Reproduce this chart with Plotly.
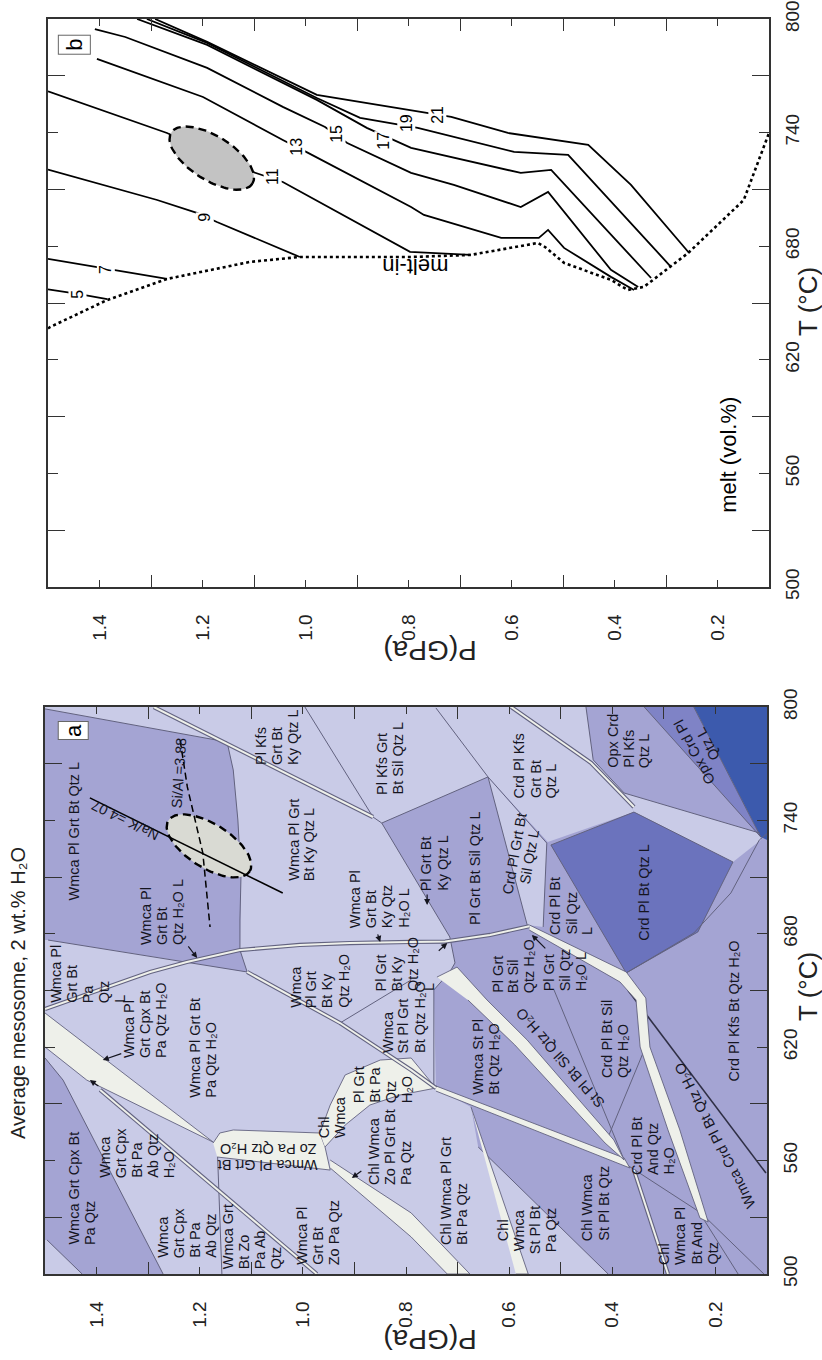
import numpy as np
import plotly.graph_objects as go

# =====================================================================
# Panel (b): melt isopleths (vol.%) in P (GPa) - T (degC) space
# =====================================================================
ISO_LEVELS = ["5", "7", "9", "11", "13", "15", "17", "19", "21"]
iso5_P = [1.5, 1.442, 1.385]
iso5_T = [657.2, 654.8, 652.0]
iso7_P = [1.5, 1.399, 1.269]
iso7_T = [673.3, 668.5, 662.7]
iso9_P = [1.5, 1.288, 1.211, 1.172, 1.011]
iso9_T = [720.5, 704.4, 697.6, 692.8, 674.3]
iso11_P = [1.5, 1.269, 1.102, 1.044, 0.797, 0.679]
iso11_T = [761.8, 739.8, 719.2, 713.9, 677.0, 675.4]
iso13_P = [1.405, 1.199, 1.044, 0.995, 0.795, 0.770, 0.620, 0.547, 0.529, 0.498, 0.407, 0.362]
iso13_T = [778.9, 758.8, 736.1, 729.3, 700.7, 696.5, 684.4, 684.4, 688.6, 679.1, 663.8, 656.9]
iso15_P = [1.409, 1.350, 1.191, 1.044, 0.962, 0.919, 0.795, 0.712, 0.582, 0.529, 0.407, 0.354]
iso15_T = [794.7, 790.5, 774.2, 753.6, 743.0, 734.5, 718.7, 712.4, 700.7, 708.7, 667.5, 658.5]
iso17_P = [1.327, 1.191, 0.978, 0.881, 0.795, 0.582, 0.523, 0.329]
iso17_T = [800.0, 786.3, 757.3, 742.5, 731.9, 718.7, 720.3, 663.2]
iso19_P = [1.308, 1.191, 0.978, 0.894, 0.782, 0.595, 0.490, 0.290]
iso19_T = [800.0, 787.4, 758.3, 747.8, 742.5, 729.8, 728.2, 669.0]
iso21_P = [1.292, 1.191, 0.978, 0.795, 0.717, 0.607, 0.451, 0.368, 0.255]
iso21_T = [800.0, 787.9, 759.9, 752.0, 748.3, 739.8, 733.5, 712.4, 676.4]
iso_label_P = [1.442, 1.387, 1.195, 1.063, 1.017, 0.939, 0.848, 0.805, 0.743]
iso_label_T = [654.8, 667.5, 695.0, 716.6, 732.4, 739.3, 735.6, 745.0, 749.3]

# melt-in curve (solidus)
meltin_P = [1.5, 1.496, 1.385, 1.269, 1.108, 1.011, 0.795, 0.679, 0.549, 0.535,
            0.498, 0.407, 0.374, 0.343, 0.257, 0.149, 0.1]
meltin_T = [636.5, 637.3, 651.6, 662.7, 671.7, 674.3, 674.3, 675.4, 681.7, 679.6,
            671.2, 662.2, 656.9, 658.5, 676.4, 704.4, 739.8]

# P-T estimate ellipse (centre and the two conjugate half-axis vectors)
ell_P0, ell_T0 = 1.182, 726.5
ell_major = (-0.0789, -13.46)   # (dP, dT)
ell_minor = (0.0226, -9.87)

# Na/K and Si/Al isopleths of panel (a)
naK_P = [1.413, 1.039]
naK_T = [751.9, 701.6]
siAl_P = [1.238, 1.224, 1.194, 1.180, 1.180]
siAl_T = [782.5, 757.7, 722.8, 687.3, 683.6]

# =====================================================================
# Panel (a): pseudosection fields (vertex lists in P, T)
# =====================================================================
fld_med_P = [0.847, 0.641, 0.525, 0.358, 0.377, 0.114, 0.1, 0.1, 0.408, 0.660,
             0.674, 0.742, 0.746, 0.715, 0.705, 0.715]
fld_med_T = [738.6, 763.0, 728.6, 744.4, 754.5, 733.3, 729.6, 500, 500, 567.2,
             588.4, 598.4, 650.3, 659.8, 664.6, 678.3]
fld_opx_kfs_P = [0.451, 0.338, 0.114, 0.377, 0.437]
fld_opx_kfs_T = [800, 800, 733.3, 754.5, 772.0]
fld_band_P = [0.377, 0.114, 0.112, 0.166, 0.358]
fld_band_T = [754.5, 733.3, 729.6, 718.0, 744.4]
fld_crd_grt_sil_P = [0.641, 0.527, 0.534, 0.565]
fld_crd_grt_sil_T = [763.0, 728.0, 683.6, 684.7]
fld_crd_bt_l_P = [0.519, 0.358, 0.166, 0.234, 0.373]
fld_crd_bt_l_T = [727.0, 744.4, 718.0, 681.0, 659.3]
fld_opx_crd_P = [0.338, 0.242, 0.112]
fld_opx_crd_T = [800, 800, 731.2]
fld_corner_P = [0.242, 0.1, 0.1, 0.112]
fld_corner_T = [800, 800, 729.6, 731.2]
fld_wmca_l_P = [1.5, 1.147, 1.135, 1.126, 1.120, 1.122, 1.122, 1.108, 1.225, 1.494, 1.5]
fld_wmca_l_T = [799.0, 781.5, 766.7, 740.2, 710.1, 687.3, 671.4, 659.8, 665.1, 676.7, 676.7]
fld_cpx_P = [1.5, 1.465, 1.271, 1.428, 1.496, 1.5]
fld_cpx_T = [614.3, 602.6, 500, 500, 518.0, 518.0]
fld_small_P = [1.225, 1.122, 1.108]
fld_small_T = [665.1, 671.4, 659.8]

# narrow (white) fields
wf_cpx_P = [1.5, 1.174, 1.419, 1.5]
wf_cpx_T = [638.1, 569.8, 602.6, 620.1]
wf_zo_P = [1.174, 1.161, 1.135, 0.967, 0.957, 0.947, 1.166]
wf_zo_T = [569.3, 574.6, 576.2, 574.6, 567.2, 555.0, 561.9]
wf_chl_P = [0.967, 0.947, 0.918, 0.850, 0.790, 0.742, 0.812, 0.870, 0.918, 0.957]
wf_chl_T = [574.6, 589.4, 605.3, 613.2, 614.3, 598.4, 594.7, 589.4, 578.8, 567.2]
wf_chlzo_P = [0.947, 0.790, 0.676, 0.720, 0.790, 0.947]
wf_chlzo_T = [560.3, 532.3, 500, 500, 519.6, 556.1]
wf_st_P = [0.674, 0.563, 0.587]
wf_st_T = [588.4, 500, 500]
wf_pa_P = [0.742, 0.377, 0.366, 0.742]
wf_pa_T = [599.5, 561.4, 556.1, 596.8]
wf_sil_P = [0.740, 0.701, 0.643, 0.565, 0.397, 0.377, 0.414, 0.589, 0.680]
wf_sil_T = [657.1, 662.4, 645.0, 623.8, 570.9, 560.3, 569.3, 621.2, 645.0]
wf_sol_P = [0.561, 0.373, 0.335, 0.327, 0.269, 0.214, 0.230, 0.292, 0.346, 0.354, 0.385, 0.561]
wf_sol_T = [684.7, 659.8, 646.0, 620.1, 576.2, 527.5, 529.6, 576.2, 620.1, 645.0, 654.5, 682.0]

# single boundaries
bnd = [
    ([1.5, 1.147], [799.0, 781.5]),
    ([1.147, 1.135, 1.126, 1.120, 1.122, 1.122, 1.108], [781.5, 766.7, 740.2, 710.1, 687.3, 671.4, 659.8]),
    ([1.494, 1.225, 1.108], [676.7, 665.1, 659.8]),
    ([0.996, 0.864, 0.847], [800, 741.8, 738.6]),
    ([0.742, 0.641, 0.527], [799.5, 763.0, 728.0]),
    ([0.847, 0.641], [738.6, 763.0]),
    ([0.641, 0.565], [763.0, 684.7]),
    ([0.527, 0.534], [728.0, 683.6]),
    ([0.847, 0.715], [738.6, 678.3]),
    ([0.715, 0.705, 0.715, 0.746, 0.746], [678.3, 664.6, 659.8, 650.3, 598.4]),
    ([0.373, 0.242, 0.170, 0.115, 0.1], [659.3, 680.4, 701.6, 729.6, 733.0]),
    ([0.451, 0.437, 0.377, 0.114], [800, 772.0, 754.5, 733.3]),
    ([0.338, 0.112], [800, 731.2]),
    ([0.242, 0.112], [800, 731.2]),
    ([0.513, 0.377], [650.3, 560.3]),
    ([0.338, 0.408], [618.5, 572.5]),
    ([0.377, 0.228, 0.106], [558.7, 532.3, 500]),
    ([0.222, 0.156], [528.6, 500]),
    ([0.660, 0.408], [567.2, 500]),
    ([0.928, 0.790], [632.8, 655.6]),
    ([1.5, 1.465, 1.271], [614.3, 602.6, 500]),
    ([1.496, 1.428], [518.0, 500]),
    ([1.166, 1.157], [567.2, 500]),
]
bnd_blue_P = fld_crd_bt_l_P + fld_crd_bt_l_P[:1]
bnd_blue_T = fld_crd_bt_l_T + fld_crd_bt_l_T[:1]
kfs_line_P = [0.370, 0.102]
kfs_line_T = [650.3, 553.4]

# double (narrow-field) boundaries
dbl = [
    ([1.5, 1.393, 1.296, 1.225, 1.122, 1.006, 0.909, 0.790, 0.724, 0.637, 0.561],
     [640.2, 650.3, 659.8, 665.1, 671.4, 674.1, 675.1, 675.7, 675.9, 679.4, 684.0]),
    ([1.108, 0.928, 0.790, 0.742], [659.8, 632.8, 607.9, 598.4]),
    ([1.289, 0.864], [800, 741.8]),
    ([0.596, 0.441, 0.358], [800, 770.4, 747.1]),
    ([1.393, 0.973], [597.4, 500]),
    ([0.358, 0.292], [555.0, 500]),
]

# field labels of panel (a): text, anchor P, anchor T, angle, alignment
# ("start": the anchor is where the lines begin; "mid": the anchor is the centre)
H2O = "H\u2082O"
lab_text = [
    "Wmca Pl Grt Bt Qtz L", f"Wmca Pl<br>Grt Bt<br>Qtz {H2O} L",
    "Wmca Pl Grt<br>Bt Ky Qtz L", "Pl Kfs<br>Grt Bt<br>Ky Qtz L",
    "Pl Kfs Grt<br>Bt Sil Qtz L", f"Wmca Pl<br>Grt Bt<br>Ky Qtz<br>{H2O} L",
    "Wmca Pl<br>Grt Bt<br>Pa<br>Qtz<br>L", f"Wmca Pl<br>Grt Cpx Bt<br>Pa Qtz {H2O}",
    f"Wmca Pl Grt Bt<br>Pa Qtz {H2O}", f"Wmca<br>Pl Grt<br>Bt Ky<br>Qtz {H2O}",
    f"Pl Grt<br>Bt Ky<br>Qtz {H2O}<br>L", f"Wmca<br>St Pl Grt<br>Bt Qtz {H2O}",
    "Chl<br>Wmca", f"Pl Grt<br>Bt Pa<br>Qtz<br>{H2O}",
    "Wmca Grt Cpx Bt<br>Pa Qtz",
    f"Wmca<br>Grt Cpx<br>Bt Pa<br>Ab Qtz<br>{H2O}", "Wmca<br>Grt Cpx<br>Bt Pa<br>Ab Qtz",
    "Wmca Grt<br>Bt Zo<br>Pa Ab<br>Qtz", "Wmca Pl<br>Grt Bt<br>Zo Pa Qtz",
    f"Wmca Pl Grt Bt<br>Zo Pa Qtz {H2O}", "Chl Wmca<br>Zo Pl Grt Bt<br>Pa Qtz",
    "Chl Wmca Pl Grt<br>Bt Pa Qtz", "Chl<br>Wmca<br>St Pl Bt<br>Pa Qtz",
    "Chl Wmca<br>St Pl Bt Qtz", "Chl<br>Wmca Pl<br>Bt And<br>Qtz",
    f"Wmca St Pl<br>Bt Qtz {H2O}", f"St Pl Bt Sil Qtz {H2O}",
    f"Crd Pl Bt Sil<br>Qtz {H2O}", f"Crd Pl Bt<br>And Qtz<br>{H2O}",
    f"Wmca Crd Pl Bt Qtz {H2O}", f"Crd Pl Kfs Bt Qtz {H2O}",
    "Crd Pl Kfs<br>Grt Bt<br>Qtz L", "Opx Crd<br>Pl Kfs<br>Qtz L",
    "Opx Crd Pl<br>Qtz L", "Pl Grt Bt Sil Qtz L", "Pl Grt Bt<br>Ky Qtz L",
    "Crd Pl Grt Bt<br>Sil Qtz L", "Crd Pl Bt<br>Sil Qtz<br>L", "Crd Pl Bt Qtz L",
    f"Pl Grt<br>Bt Sil<br>Qtz {H2O}", f"Pl Grt<br>Sil Qtz<br>{H2O} L",
    "Na/K =4.07", "Si/Al =3.88",
]
lab_P = [1.444, 1.273, 1.002, 1.050, 0.831, 0.852, 1.417, 1.306, 1.194, 0.967,
         0.802, 0.804, 0.943, 0.845, 1.428, 1.322, 1.225, 1.097, 0.971, 1.068,
         0.831, 0.707, 0.565, 0.433, 0.253, 0.645, 0.501, 0.395, 0.321, 0.201,
         0.164, 0.548, 0.368, 0.228, 0.666, 0.744, 0.575, 0.480, 0.340, 0.592,
         0.490, 1.345, 1.240]
lab_T = [696.8, 673.0, 706.9, 768.3, 752.4, 682.0, 642.3, 613.2, 592.1, 639.7,
         648.7, 615.9, 570.9, 589.4, 514.3, 549.7, 507.4, 501.6, 503.7, 562.0,
         546.0, 514.3, 523.3, 516.4, 503.7, 593.7, 614.3, 602.6, 551.3, 573.5,
         601.1, 750.8, 766.7, 778.3, 683.6, 701.6, 721.7, 678.3, 675.1, 647.6,
         648.7, 740.2, 765.0]
NLAB = len(lab_text)
lab_angle = [-90] * NLAB
lab_align = ["start"] * NLAB
for k, a in [(19, 180), (26, -131), (29, -117), (33, -118), (36, -80),
             (41, -154), (42, -86)]:
    lab_angle[k] = a
    lab_align[k] = "mid"
lab_align[22] = "mid"

# label pointer arrows: head (P, T) and tail offset in screen pixels
arrow_P = [1.205, 1.388, 0.905, 0.759, 0.720, 0.556, 1.413, 0.850]
arrow_T = [667.2, 613.2, 550.8, 695.2, 675.1, 679.4, 602.6, 675.7]
arrow_dx = [-10, 20, 11, 0, -10, 15, 10, -3]
arrow_dy = [-13, -7, -8, -12, 9, 15, 7, -9]

P_TICKS = [1.4, 1.2, 1.0, 0.8, 0.6, 0.4, 0.2]
P_MINOR = [1.3, 1.1, 0.9, 0.7, 0.5, 0.3]
T_TICKS = [500, 560, 620, 680, 740, 800]
T_MINOR = [530, 590, 650, 710, 770]

# ---------------------------------------------------------------------
LIGHT = "#c9cbe7"
MED = "#a4a4d3"
BLUE = "#6b73bd"
BLUE2 = "#7f83c6"
DBLUE = "#3c5aad"
PALE = "#eef0ea"
EDGE = "#62627f"
FONT = "Liberation Sans, Arial, sans-serif"
LAB_SIZE = 14.5
LAB_PITCH = 16.0

fig = go.Figure()


def poly(P, T, color, ax, edge=None, ew=0.0):
    fig.add_trace(go.Scatter(
        x=P, y=T, fill="toself", fillcolor=color, mode="lines",
        line=dict(width=ew, color=edge or color), xaxis="x" + ax, yaxis="y" + ax,
        hoverinfo="skip", showlegend=False))


def line(P, T, ax, color="black", width=1.0, dash=None):
    fig.add_trace(go.Scatter(
        x=P, y=T, mode="lines", line=dict(color=color, width=width, dash=dash),
        xaxis="x" + ax, yaxis="y" + ax, hoverinfo="skip", showlegend=False))


def ellipse():
    t = np.linspace(0, 2 * np.pi, 121)
    P = ell_P0 + ell_major[0] * np.cos(t) + ell_minor[0] * np.sin(t)
    T = ell_T0 + ell_major[1] * np.cos(t) + ell_minor[1] * np.sin(t)
    return P, T


# ---------------- panel (a) ----------------
A = "2"
poly([1.5, 0.1, 0.1, 1.5], [500, 500, 800, 800], LIGHT, A)
poly(fld_med_P, fld_med_T, MED, A)
poly(fld_opx_kfs_P, fld_opx_kfs_T, MED, A)
poly(fld_band_P, fld_band_T, LIGHT, A)
poly(fld_crd_grt_sil_P, fld_crd_grt_sil_T, LIGHT, A)
poly(fld_crd_bt_l_P, fld_crd_bt_l_T, BLUE, A)
poly(fld_opx_crd_P, fld_opx_crd_T, BLUE2, A)
poly(fld_corner_P, fld_corner_T, DBLUE, A)
poly(fld_wmca_l_P, fld_wmca_l_T, MED, A)
poly(fld_cpx_P, fld_cpx_T, MED, A)
poly(fld_small_P, fld_small_T, MED, A)

for P, T in bnd:
    line(P, T, A, EDGE, 1.0)
line(bnd_blue_P, bnd_blue_T, A, EDGE, 1.0)
line(kfs_line_P, kfs_line_T, A, "#2f2f45", 1.6)

for P, T in [(wf_cpx_P, wf_cpx_T), (wf_zo_P, wf_zo_T), (wf_chl_P, wf_chl_T),
             (wf_chlzo_P, wf_chlzo_T), (wf_st_P, wf_st_T), (wf_pa_P, wf_pa_T),
             (wf_sil_P, wf_sil_T), (wf_sol_P, wf_sol_T)]:
    poly(P, T, PALE, A, EDGE, 0.9)

for P, T in dbl:
    line(P, T, A, EDGE, 4.2)
    line(P, T, A, PALE, 2.0)

eP, eT = ellipse()
poly(list(eP), list(eT), "#d9dad3", A)
line(eP, eT, A, "black", 2.4, "8px,5px")
line(naK_P, naK_T, A, "black", 1.5)
line(siAl_P, siAl_T, A, "black", 1.5, "7px,4px")

# ---------------- panel (b) ----------------
B = ""
isos = [(iso5_P, iso5_T), (iso7_P, iso7_T), (iso9_P, iso9_T), (iso11_P, iso11_T),
        (iso13_P, iso13_T), (iso15_P, iso15_T), (iso17_P, iso17_T),
        (iso19_P, iso19_T), (iso21_P, iso21_T)]
for P, T in isos:
    line(P, T, B, "black", 1.8)
line(meltin_P, meltin_T, B, "black", 2.6, "dot")
poly(list(eP), list(eT), "#c3c3c3", B)
line(eP, eT, B, "black", 2.4, "8px,5px")

# ---------------- annotations ----------------
ann = []
for txt, p, t in zip(ISO_LEVELS, iso_label_P, iso_label_T):
    ann.append(dict(x=p, y=t, xref="x", yref="y", text=txt, showarrow=False,
                    textangle=-90, bgcolor="white", borderpad=0,
                    font=dict(family=FONT, size=16, color="black")))
ann.append(dict(x=0.787, y=669, xref="x", yref="y", text="melt-in", showarrow=False,
                textangle=180, font=dict(family=FONT, size=22, color="black")))
ann.append(dict(x=0.180, y=569.7, xref="x", yref="y", text="melt (vol.%)", showarrow=False,
                textangle=-90, font=dict(family=FONT, size=22, color="black")))
ann.append(dict(x=1.448, y=786.3, xref="x", yref="y", text="b", showarrow=False,
                textangle=-90, bgcolor="white", bordercolor="#666", borderwidth=1,
                borderpad=3, font=dict(family=FONT, size=22, color="black")))
ann.append(dict(x=1.445, y=787.5, xref="x2", yref="y2", text="a", showarrow=False,
                textangle=-90, bgcolor="white", bordercolor="#666", borderwidth=1,
                borderpad=2, font=dict(family=FONT, size=22, color="black")))

# each label line is placed on its own, stacked across the reading direction
for txt, p, t, ang, al in zip(lab_text, lab_P, lab_T, lab_angle, lab_align):
    rows = txt.split("<br>")
    n = len(rows)
    th = np.radians(ang)
    for i, row in enumerate(rows):
        off = (i - (n - 1) / 2) * LAB_PITCH
        a = dict(x=p, y=t, xref="x2", yref="y2", text=row, showarrow=False,
                 textangle=ang, xshift=-off * np.sin(th), yshift=-off * np.cos(th),
                 font=dict(family=FONT, size=LAB_SIZE, color="#15151f"))
        if al == "start" and ang == -90:
            a.update(xanchor="center", yanchor="bottom")
        else:
            a.update(xanchor="center", yanchor="middle")
        ann.append(a)

for p, t, dx, dy in zip(arrow_P, arrow_T, arrow_dx, arrow_dy):
    ann.append(dict(x=p, y=t, xref="x2", yref="y2", text="", showarrow=True,
                    ax=dx, ay=dy, arrowhead=2, arrowsize=1.0, arrowwidth=1.2,
                    arrowcolor="#15151f", standoff=0))


# axis titles and panel-a title
def paper_text(x, y, text, angle, size):
    return dict(x=x, y=y, xref="paper", yref="paper", text=text, showarrow=False,
                xanchor="center", yanchor="middle", textangle=angle,
                font=dict(family=FONT, size=size, color="#222"))


ann += [
    paper_text(0.523, 1 - 651 / 1360, "P(GPa)", 180, 28),
    paper_text(0.523, 1 - 1340 / 1360, "P(GPa)", 180, 28),
    paper_text(808 / 822, 1 - 302 / 1360, "T (°C)", -90, 26),
    paper_text(808 / 822, 1 - 987 / 1360, "T (°C)", -90, 26),
    paper_text(0.0219, 1 - 993 / 1360, f"Average mesosome, 2 wt.% {H2O}", -90, 20),
]


def xaxis(domain, anchor):
    return dict(domain=domain, anchor=anchor, range=[1.5, 0.1], autorange=False,
                tickmode="array", tickvals=P_TICKS, ticktext=[f"{v:.1f}" for v in P_TICKS],
                ticks="inside", ticklen=7, tickwidth=1.3, tickcolor="#333",
                minor=dict(tickvals=P_MINOR, ticks="inside", ticklen=12, tickwidth=1.3,
                           tickcolor="#333"),
                tickangle=-90, ticklabelstandoff=18,
                tickfont=dict(family=FONT, size=19, color="#222"),
                showline=True, linecolor="#333", linewidth=1.6, mirror="ticks",
                showgrid=False, zeroline=False, automargin=False)


def yaxis(domain, anchor):
    return dict(domain=domain, anchor=anchor, range=[500, 800], autorange=False,
                side="right", tickmode="array", tickvals=T_TICKS,
                ticks="inside", ticklen=10, tickwidth=1.3, tickcolor="#333",
                minor=dict(tickvals=T_MINOR, ticks="inside", ticklen=17, tickwidth=1.3,
                           tickcolor="#333"),
                tickangle=-90, ticklabelstandoff=5,
                tickfont=dict(family=FONT, size=19, color="#222"),
                showline=True, linecolor="#333", linewidth=1.6, mirror="ticks",
                showgrid=False, zeroline=False, automargin=False)


fig.update_layout(
    width=822, height=1360, template="none",
    margin=dict(l=0, r=0, t=0, b=0),
    paper_bgcolor="white", plot_bgcolor="white",
    showlegend=False,
    xaxis=xaxis([48 / 822, 769 / 822], "y"),
    yaxis=yaxis([1 - 587 / 1360, 1 - 19 / 1360], "x"),
    xaxis2=xaxis([45 / 822, 767 / 822], "y2"),
    yaxis2=yaxis([1 - 1274 / 1360, 1 - 707 / 1360], "x2"),
    annotations=ann,
)

fig.write_html("out.html")
